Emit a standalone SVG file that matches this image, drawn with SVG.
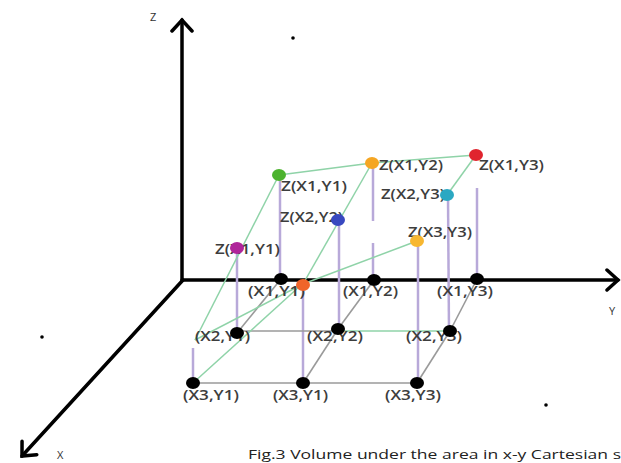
<svg xmlns="http://www.w3.org/2000/svg" width="621" height="463" viewBox="0 0 621 463">
<defs>
<style>
.axis{stroke:#000;stroke-width:3.5;fill:none;stroke-linecap:round}
.vz{stroke:#b8a9d9;stroke-width:2.5;fill:none}
.gr{stroke:#8fd3a8;stroke-width:1.5;fill:none}
.gy{stroke:#9a9a9a;stroke-width:1.6;fill:none}
.lbl{font-family:"Open Sans","DejaVu Sans",sans-serif;font-size:13.5px;font-weight:600;fill:#3d3d3d}
.ax{font-family:"Open Sans","DejaVu Sans",sans-serif;font-size:11px;fill:#333}
.cap{font-family:"Open Sans","DejaVu Sans",sans-serif;font-size:13px;fill:#222}
.pt{fill:#000}
</style>
<marker id="ah" viewBox="0 0 24 24" refX="20" refY="12" markerWidth="24" markerHeight="24" orient="auto" markerUnits="userSpaceOnUse">
<path d="M9,2 L20,12 L9,22" fill="none" stroke="#000" stroke-width="3.5" stroke-linecap="round" stroke-linejoin="miter"/>
</marker>
</defs>
<rect width="621" height="463" fill="#fff"/>

<g id="axes">
<line class="axis" x1="182" y1="280" x2="182" y2="20" marker-end="url(#ah)"/>
<line class="axis" x1="182" y1="280" x2="618" y2="280" marker-end="url(#ah)"/>
<line class="axis" x1="183" y1="280" x2="22" y2="456" marker-end="url(#ah)"/>
<text class="ax" x="150" y="21">Z</text>
<text class="ax" x="609" y="315">Y</text>
<text class="ax" x="57" y="459">X</text>
</g>

<g id="connectors">
<line class="vz" x1="280" y1="180" x2="280" y2="279"/>
<line class="vz" x1="373" y1="168" x2="373" y2="221"/>
<line class="vz" x1="373" y1="243" x2="373" y2="280"/>
<line class="vz" x1="477" y1="188" x2="477" y2="279"/>
<line class="vz" x1="448" y1="196" x2="449" y2="331"/>
<line class="vz" x1="418" y1="242" x2="418" y2="383"/>
<line class="vz" x1="339" y1="221" x2="339" y2="329"/>
<line class="vz" x1="237" y1="249" x2="237" y2="333"/>
<line class="vz" x1="303" y1="286" x2="303" y2="383"/>
<line class="vz" x1="193" y1="348" x2="193" y2="381"/>
<line class="gy" x1="281" y1="279" x2="237" y2="333"/>
<line class="gy" x1="374" y1="280" x2="338" y2="329"/>
<line class="gy" x1="338" y1="329" x2="303" y2="383"/>
<line class="gy" x1="477" y1="279" x2="450" y2="331"/>
<line class="gy" x1="450" y1="331" x2="417" y2="383"/>
<line class="gy" x1="237" y1="331" x2="338" y2="331"/>
<line class="gr" x1="338" y1="331" x2="450" y2="331"/>
<line class="gy" x1="193" y1="383" x2="417" y2="383"/>
<line class="gr" x1="279" y1="175" x2="372" y2="163"/>
<line class="gr" x1="372" y1="163" x2="476" y2="155"/>
<line class="gr" x1="476" y1="155" x2="447" y2="195"/>
<line class="gr" x1="279" y1="175" x2="195" y2="340"/>
<line class="gr" x1="372" y1="163" x2="303" y2="284"/>
<line class="gr" x1="195" y1="340" x2="303" y2="284"/>
<line class="gr" x1="303" y1="284" x2="417" y2="241"/>
<line class="gr" x1="193" y1="383" x2="300" y2="286"/>
</g>

<g id="p-x1y1"><ellipse class="pt" cx="281" cy="279" rx="7" ry="6"/><text class="lbl" x="248" y="296" textLength="57" lengthAdjust="spacingAndGlyphs">(X1,Y1)</text></g>
<g id="p-x1y2"><ellipse class="pt" cx="374" cy="280" rx="7" ry="6"/><text class="lbl" x="343" y="296" textLength="55" lengthAdjust="spacingAndGlyphs">(X1,Y2)</text></g>
<g id="p-x1y3"><ellipse class="pt" cx="477" cy="279" rx="7" ry="6"/><text class="lbl" x="437" y="296" textLength="56" lengthAdjust="spacingAndGlyphs">(X1,Y3)</text></g>
<g id="p-x2y1"><text class="lbl" x="195" y="341" textLength="55" lengthAdjust="spacingAndGlyphs">(X2,Y1)</text><ellipse class="pt" cx="237" cy="333" rx="7" ry="6"/></g>
<g id="p-x2y2"><text class="lbl" x="307" y="341" textLength="56" lengthAdjust="spacingAndGlyphs">(X2,Y2)</text><ellipse class="pt" cx="338" cy="329" rx="7" ry="6"/></g>
<g id="p-x2y3"><text class="lbl" x="406" y="341" textLength="56" lengthAdjust="spacingAndGlyphs">(X2,Y3)</text><ellipse class="pt" cx="450" cy="331" rx="7" ry="6"/></g>
<g id="p-x3y1"><ellipse class="pt" cx="193" cy="383" rx="7" ry="6"/><text class="lbl" x="183" y="400" textLength="56" lengthAdjust="spacingAndGlyphs">(X3,Y1)</text></g>
<g id="p-x3y2"><ellipse class="pt" cx="303" cy="383" rx="7" ry="6"/><text class="lbl" x="273" y="400" textLength="55" lengthAdjust="spacingAndGlyphs">(X3,Y1)</text></g>
<g id="p-x3y3"><ellipse class="pt" cx="417" cy="383" rx="7" ry="6"/><text class="lbl" x="385" y="400" textLength="56" lengthAdjust="spacingAndGlyphs">(X3,Y3)</text></g>

<g id="z-x1y1"><ellipse cx="279" cy="175" rx="7" ry="6" fill="#4cb32e"/><text class="lbl" x="281" y="191" textLength="66" lengthAdjust="spacingAndGlyphs">Z(X1,Y1)</text></g>
<g id="z-x1y2"><ellipse cx="372" cy="163" rx="7" ry="6" fill="#f5a623"/><text class="lbl" x="379" y="170" textLength="64" lengthAdjust="spacingAndGlyphs">Z(X1,Y2)</text></g>
<g id="z-x1y3"><ellipse cx="476" cy="155" rx="7" ry="6" fill="#e0242e"/><text class="lbl" x="479" y="170" textLength="65" lengthAdjust="spacingAndGlyphs">Z(X1,Y3)</text></g>
<g id="z-x2y3"><text class="lbl" x="381" y="199" textLength="64" lengthAdjust="spacingAndGlyphs">Z(X2,Y3)</text><ellipse cx="447" cy="195" rx="7" ry="6" fill="#2ba8c2"/></g>
<g id="z-x2y2"><text class="lbl" x="280" y="222" textLength="63" lengthAdjust="spacingAndGlyphs">Z(X2,Y2)</text><ellipse cx="338" cy="220" rx="7" ry="6" fill="#3848c0"/></g>
<g id="z-x2y1"><text class="lbl" x="215" y="254" textLength="65" lengthAdjust="spacingAndGlyphs">Z(X1,Y1)</text><ellipse cx="237" cy="248" rx="7" ry="6" fill="#b0259a"/></g>
<g id="z-x3y3"><text class="lbl" x="408" y="237" textLength="64" lengthAdjust="spacingAndGlyphs">Z(X3,Y3)</text><ellipse cx="417" cy="241" rx="7" ry="6" fill="#f7b731"/></g>
<g id="z-x3y2"><ellipse cx="303" cy="285" rx="7" ry="6" fill="#f0652a"/></g>

<g id="specks">
<circle cx="293" cy="38" r="1.8" fill="#000"/>
<circle cx="42" cy="337" r="1.8" fill="#000"/>
<circle cx="546" cy="405" r="1.8" fill="#000"/>
</g>

<text class="cap" x="248" y="459" textLength="373" lengthAdjust="spacingAndGlyphs">Fig.3 Volume under the area in x-y Cartesian s</text>
</svg>
